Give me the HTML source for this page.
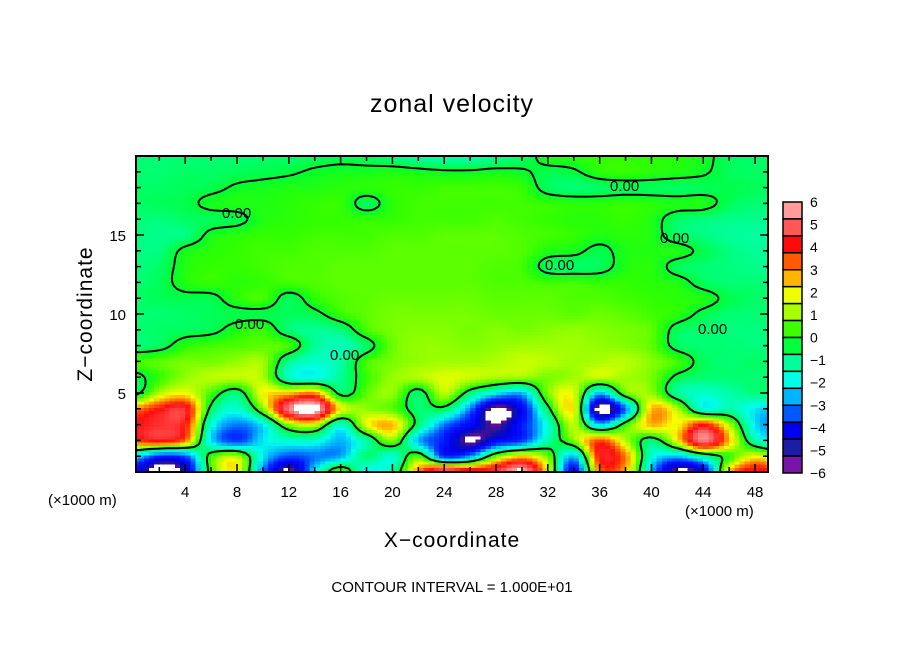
<!DOCTYPE html>
<html><head><meta charset="utf-8"><style>
body{margin:0;background:#fff;}
svg text{font-family:"Liberation Sans",sans-serif;fill:#000;}
</style></head><body>
<svg id="chart" width="904" height="654" viewBox="0 0 904 654" xmlns="http://www.w3.org/2000/svg">
<defs>
<clipPath id="plotclip"><rect x="136" y="156" width="632" height="316"/></clipPath>
</defs>
<rect width="904" height="654" fill="#fff"/>
<text x="452" y="112" font-size="25" text-anchor="middle" letter-spacing="1">zonal velocity</text>
<g clip-path="url(#plotclip)">
<g id="cells" shape-rendering="crispEdges"></g>
<path id="contour" fill="none" stroke="#000" stroke-width="2"/>
</g>
<g id="clabels" font-size="15">
<text x="222" y="218">0.00</text>
<text x="610" y="191">0.00</text>
<text x="660" y="243">0.00</text>
<text x="545" y="270">0.00</text>
<text x="235" y="329">0.00</text>
<text x="330" y="360">0.00</text>
<text x="698" y="334">0.00</text>
</g>
<rect x="136" y="156" width="632" height="316" fill="none" stroke="#000" stroke-width="2"/>
<g id="ticks" stroke="#000" stroke-width="1.5"></g>
<g id="xlabels" font-size="15" text-anchor="middle"></g>
<g id="ylabels" font-size="15" text-anchor="end"></g>
<text x="48" y="505" font-size="15">(×1000 m)</text>
<text x="685" y="516" font-size="15">(×1000 m)</text>
<text x="452" y="547" font-size="21" text-anchor="middle" letter-spacing="1">X−coordinate</text>
<text transform="translate(92,314) rotate(-90)" font-size="21" text-anchor="middle" letter-spacing="1">Z−coordinate</text>
<text x="452" y="592" font-size="15" text-anchor="middle">CONTOUR INTERVAL = 1.000E+01</text>
<g id="colorbar"></g>
</svg>
<script>
const xGrid=[0,2,4,6,8,10,12,14,16,18,20,22,24,26,28,30,32,34,36,38,40,42,44,46,48,50];
const zGrid=[0,1,2,3,4,5,6,7,8,9,10,11,12,13,14,15,16,17,18,19,20];
const row0=[-4.5,-7,-5.5,0.5,2.0,-3.0,-6.5,-2.0,1.0,-2.0,-1.0,3.0,6.5,5.0,5.0,6.5,2.0,-4.5,3.0,2.5,-2.5,-6.5,-5.0,2.5,4.5,3.5];
const row1=[-2.0,-4.0,-3.5,0.5,1.5,-2.0,-3.5,-3.0,-2.5,-0.5,-1.5,0.8,-3.5,-2.5,1.0,2.5,1.0,-2.5,4.0,3.0,-1.5,-2.5,-1.0,0.5,2.0,1.0];
const row2=[3.5,4.0,3.0,-2.0,-3.5,-2.0,-1.5,-1.5,-2.5,-1.0,1.0,-2.5,-4.0,-6.2,-4.5,-3.5,-1.0,1.0,3.5,1.5,-0.5,2.0,5.5,2.5,-1.0,-2.0];
const row3=[4.0,4.5,4.0,-1.5,-3.0,-2.0,1.0,1.5,-1.5,1.8,2.5,-0.5,-3.0,-4.5,-6.0,-4.0,-1.5,1.5,-2.0,0.5,2.5,2.0,4.0,1.5,-2.0,-3.0];
const row4=[3.0,4.0,4.5,-0.3,-1.5,1.0,5.5,6.5,2.0,1.2,0.8,-0.5,-0.3,-3.0,-6.5,-4.5,-0.3,2.0,-6.5,-3.0,2.5,1.5,-1.5,-1.0,-2.0,-2.5];
const row5=[-0.4,1.5,2.0,0.6,-0.5,2.0,2.5,3.0,-0.3,0.8,1.2,-0.4,1.5,-0.5,-2.0,-2.5,1.0,1.8,-2.5,0.8,1.2,-0.8,-1.4,-1.0,-0.6,-0.6];
const row6=[-0.3,0.5,1.2,1.5,1.5,1.4,-1.2,-1.6,-0.8,0.5,1.2,1.4,1.8,1.6,1.3,1.2,1.0,1.3,1.5,1.3,1.0,-0.2,-0.5,-0.5,-0.5,-0.6];
const row7=[0.6,0.8,1.0,1.0,1.2,1.3,-0.8,-1.4,-1.0,0.6,1.0,1.2,1.3,1.3,1.4,1.6,1.5,1.3,1.4,1.5,1.1,0.6,-0.3,-0.5,-0.4,-0.5];
const row8=[-0.5,-0.3,0.4,0.6,0.7,0.8,0.6,-0.8,-1.2,-0.4,0.9,1.2,1.2,1.1,1.2,1.3,1.3,1.3,1.2,1.1,0.8,-0.3,-0.5,-0.5,-0.6,-0.6];
const row9=[-0.5,-0.4,-0.3,-0.2,0.3,0.5,-0.5,-0.8,-0.6,0.6,1.0,1.1,1.1,1.0,1.1,1.0,1.1,1.2,1.1,1.0,0.8,-0.3,-0.5,-0.6,-0.6,-0.6];
const row10=[-0.5,-0.5,-0.4,-0.3,-0.2,-0.2,-0.3,-0.2,0.5,0.8,1.0,1.0,1.0,1.0,0.9,0.9,0.9,0.8,0.9,0.8,0.6,0.4,-0.2,-0.5,-0.5,-0.5];
const row11=[-0.4,-0.3,-0.2,-0.2,0.4,0.6,-0.3,0.4,0.7,0.8,0.9,0.9,0.9,0.9,0.8,0.8,0.8,0.7,0.7,0.6,0.5,0.4,0.3,-0.2,-0.4,-0.5];
const row12=[-0.5,-0.3,0.3,0.5,0.4,0.5,0.6,0.7,0.8,0.8,0.8,0.8,0.8,0.8,0.7,0.7,0.6,0.6,0.5,0.5,0.4,0.3,-0.3,-0.5,-0.5,-0.6];
const row13=[-0.6,-0.4,0.3,0.5,0.5,0.6,0.7,0.7,0.8,0.8,0.8,0.8,0.8,0.8,0.7,0.6,-0.3,-0.4,-0.3,0.3,0.4,-0.3,-0.5,-0.6,-0.7,-0.8];
const row14=[-0.6,-0.6,0.2,0.4,0.5,0.6,0.6,0.7,0.7,0.7,0.8,0.8,0.8,0.8,0.8,0.7,0.3,0.2,-0.2,0.3,0.3,0.3,-0.2,-0.6,-0.8,-0.8];
const row15=[-0.6,-0.7,-0.6,0.2,0.4,0.5,0.5,0.6,0.6,0.6,0.7,0.7,0.8,0.8,0.8,0.7,0.6,0.5,0.3,0.4,0.3,-0.4,-0.6,-0.8,-0.9,-0.9];
const row16=[-0.5,-0.6,-0.4,-0.3,-0.2,0.3,0.4,0.5,0.5,0.5,0.5,0.6,0.6,0.6,0.7,0.6,0.5,0.4,0.4,0.5,0.3,-0.4,-0.6,-0.7,-0.7,-0.8];
const row17=[-0.4,-0.3,-0.2,0.2,0.3,0.3,0.4,0.5,0.5,-0.3,0.4,0.6,0.6,0.6,0.6,0.6,0.5,0.4,0.4,0.5,0.4,0.3,0.3,-0.3,-0.5,-0.5];
const row18=[-0.4,-0.4,-0.3,-0.2,0.1,0.2,0.3,0.3,0.4,0.4,0.5,0.5,0.6,0.6,0.6,0.5,-0.3,-0.5,-0.4,-0.3,-0.3,-0.4,-0.3,-0.2,-0.3,-0.4];
const row19=[-0.5,-0.5,-0.4,-0.4,-0.3,-0.2,-0.1,0.1,0.2,0.2,0.3,0.2,0.1,0.1,0.2,0.1,-0.2,-0.1,0.4,0.5,0.4,0.3,0.1,-0.3,-0.4,-0.4];
const row20=[-0.5,-0.5,-0.5,-0.5,-0.5,-0.4,-0.4,-0.3,-0.2,-0.3,-0.6,-0.9,-1,-1,-0.8,-0.4,0.3,0.4,0.5,0.5,0.4,0.3,0.2,-0.3,-0.4,-0.4];
const rows=[row0,row1,row2,row3,row4,row5,row6,row7,row8,row9,row10,row11,row12,row13,row14,row15,row16,row17,row18,row19,row20];
const xTicks=[4,8,12,16,20,24,28,32,36,40,44,48];
const zTicks=[5,10,15];
const cbLabels=[6,5,4,3,2,1,0,-1,-2,-3,-4,-5,-6];
const cbColors=["#ff9c9c","#ff5656","#ff0a0a","#ff5a00","#ffb400","#f0ff00","#a6ff00","#3cff00","#00ff3c","#00ff9a","#00ffe6","#00b4ff","#0058ff","#0000f0","#1c1ca6","#7814a8"];

const NS="http://www.w3.org/2000/svg";
const X0=0.2,X1=49.0,PL=136,PR=768,PT=156,PB=472;
function xs(x){return PL+(x-X0)/(X1-X0)*(PR-PL);}
function zs(z){return PB-z/20*(PB-PT);}
const stops=[[-6,[100,10,150]],[-5.6,[20,20,160]],[-5,[0,0,230]],[-4,[0,20,255]],[-3.3,[0,80,255]],[-2.6,[0,170,255]],[-1.8,[0,255,235]],[-0.8,[0,255,150]],[0,[0,255,50]],[0.5,[50,255,0]],[1.3,[160,255,0]],[2,[245,255,0]],[2.6,[255,175,0]],[3.3,[255,90,0]],[4,[255,12,12]],[5,[255,80,80]],[6,[255,160,160]]];
function color(v){
  if(v>6||v<-6) return "#ffffff";
  for(let i=1;i<stops.length;i++){
    if(v<=stops[i][0]){const a=stops[i-1],b=stops[i];const t=(v-a[0])/(b[0]-a[0]);
      const c=a[1].map((q,k)=>Math.round(q+(b[1][k]-q)*t));return `rgb(${c[0]},${c[1]},${c[2]})`;}
  }
  return "#ffa0a0";
}
function cr(p0,p1,p2,p3,t){return 0.5*((2*p1)+(-p0+p2)*t+(2*p0-5*p1+4*p2-p3)*t*t+(-p0+3*p1-3*p2+p3)*t*t*t);}
function g(j,i){j=Math.max(0,Math.min(zGrid.length-1,j));i=Math.max(0,Math.min(xGrid.length-1,i));return rows[j][i];}
function val(x,z){
  const fx=(x-xGrid[0])/(xGrid[1]-xGrid[0]), fz=(z-zGrid[0])/(zGrid[1]-zGrid[0]);
  const i=Math.max(0,Math.min(xGrid.length-2,Math.floor(fx))), j=Math.max(0,Math.min(zGrid.length-2,Math.floor(fz)));
  const tx=fx-i,tz=fz-j;const r=[];
  for(let k=-1;k<=2;k++) r.push(cr(g(j+k,i-1),g(j+k,i),g(j+k,i+1),g(j+k,i+2),tx));
  return cr(r[0],r[1],r[2],r[3],tz);
}
const DX=0.4,DZ=0.2;
const nx=Math.ceil((X1-X0)/DX)+1, nz=Math.ceil(20/DZ)+1;
const F=[];
for(let b=0;b<nz;b++){F.push([]);for(let a=0;a<nx;a++)F[b].push(val(X0+a*DX,b*DZ));}
const cells=document.getElementById('cells');
for(let b=0;b<nz;b++){
  for(let a=0;a<nx;a++){
    const x=X0+a*DX,z=b*DZ;
    const r=document.createElementNS(NS,'rect');
    
    
    const x1=xs(x-DX/2),x2=xs(x+DX/2),y1=zs(z+DZ/2),y2=zs(z-DZ/2);
    r.setAttribute('x',x1.toFixed(1));r.setAttribute('y',y1.toFixed(1));
    r.setAttribute('width',(x2-x1+0.6).toFixed(1));r.setAttribute('height',(y2-y1+0.6).toFixed(1));
    r.setAttribute('fill',color(F[b][a]));
    cells.appendChild(r);
  }
}
let d="";
function lerp(p,q,va,vb){return p+(q-p)*(va/(va-vb));}
for(let b=0;b<nz-1;b++){
  for(let a=0;a<nx-1;a++){
    const v00=F[b][a],v10=F[b][a+1],v01=F[b+1][a],v11=F[b+1][a+1];
    const x0=X0+a*DX,x1=x0+DX,z0=b*DZ,z1=z0+DZ;
    const pts=[];
    if((v00>0)!==(v10>0)) pts.push([lerp(x0,x1,v00,v10),z0]);
    if((v10>0)!==(v11>0)) pts.push([x1,lerp(z0,z1,v10,v11)]);
    if((v11>0)!==(v01>0)) pts.push([lerp(x1,x0,v11,v01),z1]);
    if((v01>0)!==(v00>0)) pts.push([x0,lerp(z1,z0,v01,v00)]);
    for(let k=0;k+1<pts.length;k+=2){
      d+=`M${xs(pts[k][0]).toFixed(1)},${zs(pts[k][1]).toFixed(1)}L${xs(pts[k+1][0]).toFixed(1)},${zs(pts[k+1][1]).toFixed(1)}`;
    }
  }
}
document.getElementById('contour').setAttribute('d',d);
const tg=document.getElementById('ticks');
function line(x1,y1,x2,y2,name){const l=document.createElementNS(NS,'line');
  
  
  l.setAttribute('x1',x1);l.setAttribute('y1',y1);l.setAttribute('x2',x2);l.setAttribute('y2',y2);tg.appendChild(l);}
for(let x=2;x<X1;x+=2){const major=x%4===0;const L=major?8:5;const px=xs(x);
  line(px,PB,px,PB-L,'x-tick');line(px,PT,px,PT+L,'x-tick-top');}
for(let z=1;z<20;z+=1){const major=z%5===0;const L=major?8:5;const py=zs(z);
  line(PL,py,PL+L,py,'z-tick');line(PR,py,PR-L,py,'z-tick-right');}
const xl=document.getElementById('xlabels');
xTicks.forEach(v=>{const t=document.createElementNS(NS,'text');
  
  
  t.setAttribute('x',xs(v));t.setAttribute('y',497);t.textContent=v;xl.appendChild(t);});
const yl=document.getElementById('ylabels');
zTicks.forEach(v=>{const t=document.createElementNS(NS,'text');
  
  
  t.setAttribute('x',126);t.setAttribute('y',zs(v)+6);t.textContent=v;yl.appendChild(t);});
const cb=document.getElementById('colorbar');
const CT=202,CB=473,CX=783,CW=19;
const bh=(CB-CT)/cbColors.length;
cbColors.forEach((c,i)=>{const r=document.createElementNS(NS,'rect');
  
  
  r.setAttribute('x',CX);r.setAttribute('y',CT+i*bh);r.setAttribute('width',CW);r.setAttribute('height',bh);
  r.setAttribute('fill',c);r.setAttribute('stroke','#000');r.setAttribute('stroke-width','1.5');cb.appendChild(r);});
cbLabels.forEach((v,i)=>{const t=document.createElementNS(NS,'text');
  
  
  t.setAttribute('x',810);t.setAttribute('y',CT+i*(CB-CT)/(cbLabels.length-1)+5);
  t.setAttribute('font-size','14');t.textContent=v<0?'−'+(-v):v;cb.appendChild(t);});
</script>
</body></html>
